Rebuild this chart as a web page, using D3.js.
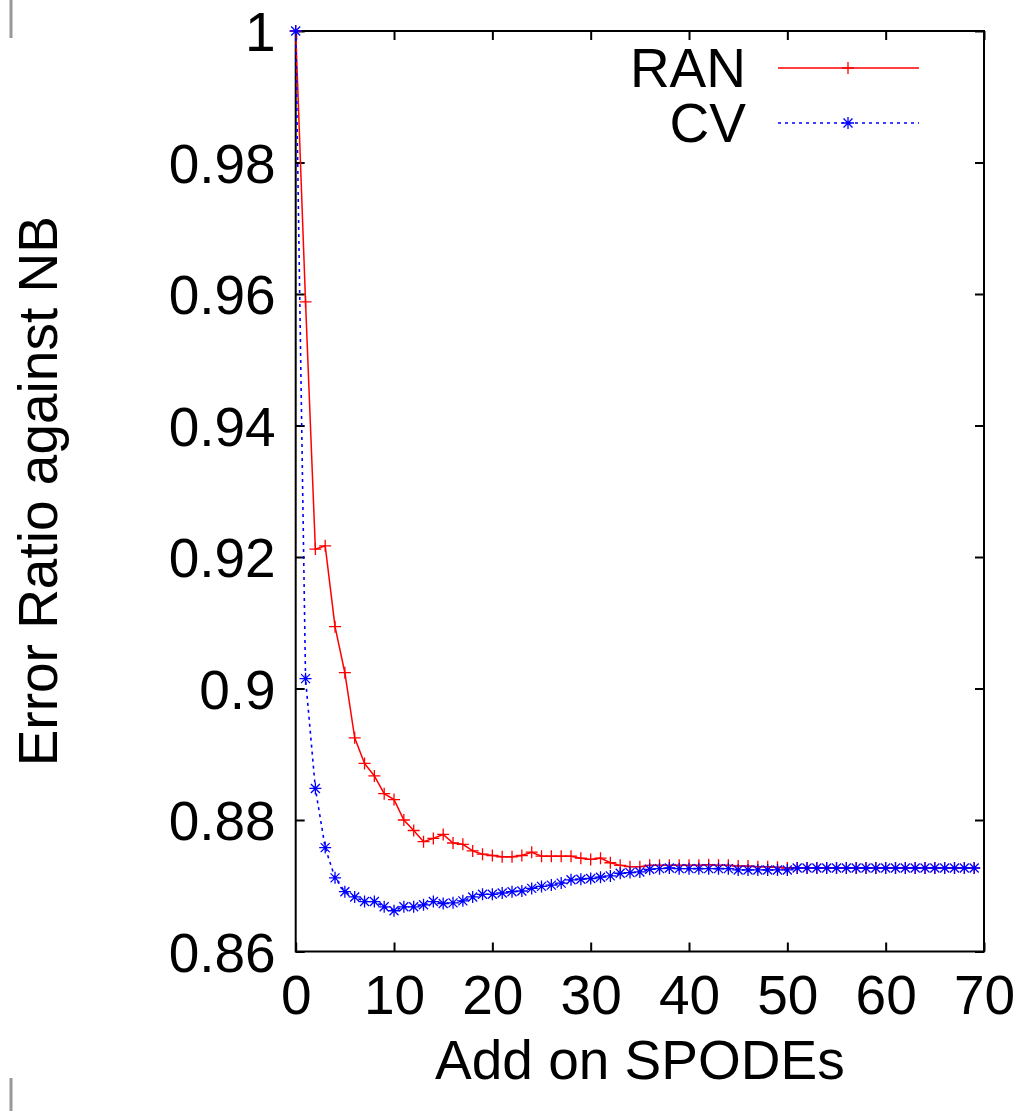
<!DOCTYPE html>
<html>
<head>
<meta charset="utf-8">
<script src="https://cdn.jsdelivr.net/npm/d3@7"></script>
<style>
  body { margin: 0; background: #fff; }
  svg text { font-family: "Liberation Sans", Arial, sans-serif; fill: #000; }
</style>
</head>
<body>
<svg id="chart" width="1024" height="1111"></svg>
<script>

// x positions (number of SPODEs added)
var spodes = d3.range(0, 70);

var ran = [1.0, 0.9588, 0.9212, 0.9217, 0.9094, 0.9024, 0.8925, 0.8886, 0.8867, 0.8840,
  0.8831, 0.8800, 0.8784, 0.8767, 0.8772, 0.8778, 0.8765, 0.8763, 0.8753, 0.8748,
  0.8746, 0.8744, 0.8744, 0.8746, 0.8751, 0.8745, 0.8745, 0.8745, 0.8745, 0.8742,
  0.8740, 0.8742, 0.8735, 0.8731, 0.8729, 0.8729, 0.8731, 0.8731, 0.8731, 0.8731,
  0.8731, 0.8731, 0.8732, 0.8731, 0.8731, 0.8730, 0.8730, 0.8729, 0.8729, 0.8728,
  0.8727, 0.8727, 0.8727, 0.8727, 0.8727, 0.8727, 0.8727, 0.8727, 0.8727, 0.8727,
  0.8727, 0.8727, 0.8727, 0.8727, 0.8727, 0.8727, 0.8727, 0.8727, 0.8727, 0.8727];

var cv = [1.0, 0.9015, 0.8848, 0.8758, 0.8712, 0.8691, 0.8683, 0.8676, 0.8676, 0.8668,
  0.8662, 0.8668, 0.8668, 0.8671, 0.8676, 0.8673, 0.8674, 0.8677, 0.8683, 0.8687,
  0.8687, 0.8689, 0.8691, 0.8692, 0.8696, 0.8699, 0.8701, 0.8704, 0.8709, 0.8710,
  0.8711, 0.8713, 0.8715, 0.8719, 0.8720, 0.8721, 0.8725, 0.8726, 0.8727, 0.8726,
  0.8726, 0.8726, 0.8726, 0.8726, 0.8726, 0.8724, 0.8724, 0.8724, 0.8724, 0.8724,
  0.8724, 0.8727, 0.8727, 0.8727, 0.8727, 0.8727, 0.8727, 0.8727, 0.8727, 0.8727,
  0.8727, 0.8727, 0.8727, 0.8727, 0.8727, 0.8727, 0.8727, 0.8727, 0.8727, 0.8727];

var xTicks = [0, 10, 20, 30, 40, 50, 60, 70];
var yTicks = [0.86, 0.88, 0.9, 0.92, 0.94, 0.96, 0.98, 1];

var seriesNames = ["RAN", "CV"];

///////////////////////
// Chart size setup
var margin = { top: 31, right: 40, bottom: 159.5, left: 295.7 };
var out_width = 1024, out_height = 1111;
var width = out_width - margin.left - margin.right;
var height = out_height - margin.top - margin.bottom;
var font_size = 55;

var svg = d3.select("#chart");

// little grey marks on the left edge
svg.append("line").attr("x1", 11).attr("x2", 11).attr("y1", 0).attr("y2", 38)
    .attr("stroke", "#999").attr("stroke-width", 3);
svg.append("line").attr("x1", 11).attr("x2", 11).attr("y1", 1078).attr("y2", 1111)
    .attr("stroke", "#999").attr("stroke-width", 3);

var chart = svg.append("g")
    .attr("transform", "translate(" + margin.left + "," + margin.top + ")");

///////////////////////
// Scales
var x = d3.scaleLinear().domain([0, 70]).range([0, width]);
var y = d3.scaleLinear().domain([0.86, 1]).range([height, 0]);

///////////////////////
// Axes (gnuplot style: inward ticks, mirrored)
var fmt = function(d) { return String(+d.toFixed(2)); };

chart.append("g")
    .attr("transform", "translate(0," + height + ")")
    .call(d3.axisBottom(x).tickValues(xTicks).tickSize(-9).tickPadding(23).tickFormat(fmt))
    .call(g => g.selectAll("text").attr("font-size", font_size).attr("dy", "0.71em"));

chart.append("g")
    .call(d3.axisTop(x).tickValues(xTicks).tickSize(-9).tickFormat(""));

chart.append("g")
    .call(d3.axisLeft(y).tickValues(yTicks).tickSize(-9).tickPadding(20).tickFormat(fmt))
    .call(g => g.selectAll("text").attr("font-size", font_size).attr("dy", "0.36em"));

chart.append("g")
    .attr("transform", "translate(" + width + ",0)")
    .call(d3.axisRight(y).tickValues(yTicks).tickSize(-9).tickFormat(""));

chart.selectAll(".domain").remove();
chart.selectAll(".tick line").attr("stroke", "#000").attr("stroke-width", 2);
chart.selectAll(".tick text").attr("font-family", "Liberation Sans, Arial, sans-serif");

// border
chart.append("rect")
    .attr("width", width).attr("height", height)
    .attr("fill", "none").attr("stroke", "#000").attr("stroke-width", 2);

///////////////////////
// Axis titles
chart.append("text")
    .text("Add on SPODEs")
    .attr("text-anchor", "middle")
    .attr("font-size", font_size)
    .attr("x", width / 2)
    .attr("y", height + 127);

chart.append("text")
    .text("Error Ratio against NB")
    .attr("text-anchor", "middle")
    .attr("font-size", font_size)
    .attr("transform", "translate(" + (57 - margin.left) + "," + (height / 2) + ") rotate(-90)");

///////////////////////
// Lines and markers
var colors = { RAN: "#ff0000", CV: "#0000ff" };
var dashes = { RAN: null, CV: "3,4" };

var lineGen = d3.line()
    .x(function(d, i) { return x(spodes[i]); })
    .y(function(d) { return y(d); });

function plusPath(s) { return "M" + (-s) + ",0H" + s + "M0," + (-s) + "V" + s; }
function starPath(s) {
  var k = s * 0.75;
  return plusPath(s) + "M" + (-k) + "," + (-k) + "L" + k + "," + k + "M" + (-k) + "," + k + "L" + k + "," + (-k);
}
var markers = { RAN: plusPath(6), CV: starPath(6) };

[["RAN", ran], ["CV", cv]].forEach(function(s) {
  var name = s[0], vals = s[1];
  chart.append("path")
      .datum(vals)
      .attr("fill", "none")
      .attr("stroke", colors[name])
      .attr("stroke-width", name == "RAN" ? 1.5 : 1.6)
      .attr("stroke-dasharray", dashes[name])
      .attr("d", lineGen);

  chart.append("g")
    .selectAll("path")
    .data(vals)
    .enter().append("path")
      .attr("transform", function(d, i) { return "translate(" + x(spodes[i]) + "," + y(d) + ")"; })
      .attr("d", markers[name])
      .attr("fill", "none")
      .attr("stroke", colors[name])
      .attr("stroke-width", 1.3);
});

///////////////////////
// Legend
var legend = svg.append("g");
seriesNames.forEach(function(name, i) {
  var ly = 68 + i * 55;
  legend.append("text")
      .text(name)
      .attr("text-anchor", "end")
      .attr("font-size", font_size)
      .attr("x", 746)
      .attr("y", ly + 19);
  legend.append("line")
      .attr("x1", 778).attr("x2", 919)
      .attr("y1", ly).attr("y2", ly)
      .attr("stroke", colors[name])
      .attr("stroke-width", 1.5)
      .attr("stroke-dasharray", dashes[name]);
  legend.append("path")
      .attr("transform", "translate(848," + ly + ")")
      .attr("d", markers[name])
      .attr("fill", "none")
      .attr("stroke", colors[name])
      .attr("stroke-width", 1.3);
});

</script>
</body>
</html>
